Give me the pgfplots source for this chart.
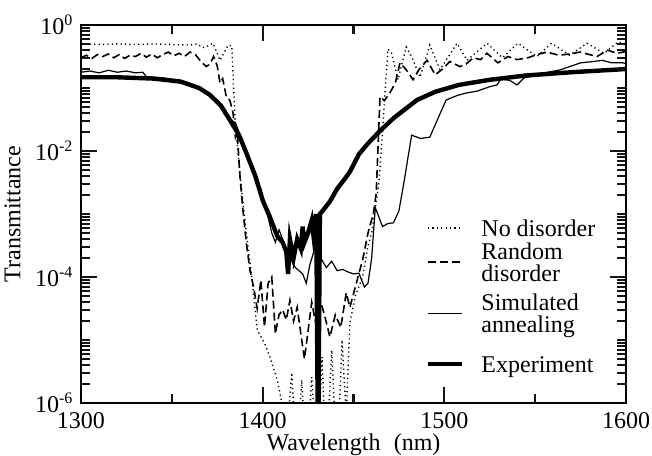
\documentclass[border=0pt]{standalone}
\usepackage{pgfplots}
\pgfplotsset{compat=1.18}
\usepackage{fontspec}
\setmainfont{Liberation Serif}
\definecolor{tickcol}{RGB}{20,20,20}
\newcommand{\fs}{\fontsize{12}{13.8}\selectfont}
\newcommand{\one}[1]{\raisebox{-4pt}{#1}}
\newcommand{\two}[2]{\raisebox{1.55pt}{\vtop{\baselineskip=11pt\hbox{#1}\hbox{#2}}}}
\pgfplotsset{
  leg/.style 2 args={legend image code/.code={%
    \draw[##1] (0cm,0cm) -- (0.6cm,0cm);
    \path[draw=none] (0cm,-#1) -- (0cm,#2);}},
}

\begin{document}
\begin{tikzpicture}
\begin{axis}[
  name=ax,
  width=272.5pt, height=189pt, scale only axis,
  xmin=1300, xmax=1600, ymin=1e-6, ymax=1, ymode=log,
  xtick={1300,1400,1500,1600},
  minor xtick={1350,1450,1550},
  ytick={1e-6,1e-4,1e-2,1},
  yticklabels={10\textsuperscript{-6},10\textsuperscript{-4},10\textsuperscript{-2},10\textsuperscript{0}},
  minor ytick={2e-6,3e-6,4e-6,5e-6,6e-6,7e-6,8e-6,9e-6,1e-5,
               2e-5,3e-5,4e-5,5e-5,6e-5,7e-5,8e-5,9e-5,
               2e-4,3e-4,4e-4,5e-4,6e-4,7e-4,8e-4,9e-4,1e-3,
               2e-3,3e-3,4e-3,5e-3,6e-3,7e-3,8e-3,9e-3,
               2e-2,3e-2,4e-2,5e-2,6e-2,7e-2,8e-2,9e-2,1e-1,
               2e-1,3e-1,4e-1,5e-1,6e-1,7e-1,8e-1,9e-1},
  tick align=inside, xtick pos=both, ytick pos=both,
  major tick length=8pt, minor tick length=4.5pt,
  line width=1pt,
  axis line style={line width=1pt},
  axis on top,
  xtick style={draw=tickcol, line width=1.1pt},
  ytick style={draw=tickcol, line width=1.1pt},
  tick label style={font=\fs},
  x tick label style={/pgf/number format/1000 sep={}, yshift=-1pt},
  /pgf/number format/assume math mode=true,
  label style={font=\fs},
  xlabel={Wavelength\hspace{0.55em}(nm)},
  xlabel style={yshift=4.5pt},
  ylabel={Transmittance},
  legend style={draw=none, fill=none, font=\fs, inner sep=0pt,
    nodes={inner sep=0pt, text height=0pt, text depth=0pt, anchor=west},
    column sep=8.5pt, row sep=0pt,
    at={(rel axis cs:0.631,0.497)}, anchor=north west},
  legend cell align=left,
]
% No disorder
\addplot[black, line width=0.7pt, dash pattern=on 0.6pt off 1.6pt, leg={6pt}{6pt}] coordinates {
(1300,0.501)(1310,0.490)(1320,0.501)(1330,0.490)(1340,0.501)(1350,0.490)
(1360,0.479)(1364,0.501)(1367,0.437)(1370,0.468)(1372.7,0.513)(1376.5,0.275)
(1381,0.479)(1383,0.468)(1384,0.100)(1385,0.0251)(1388,3.16e-3)(1391,5.01e-4)
(1394,1.0e-4)(1397,1.45e-5)(1401,8.91e-6)(1404,5.37e-6)(1408,2.34e-6)(1410.6,1e-6)
(1412,1e-7)(1416,3.02e-6)(1419,1e-7)(1421.5,2.34e-6)(1424,1e-7)(1427,2.57e-6)
(1430,1e-7)(1432.7,5.37e-6)(1435,1e-7)(1438,6.92e-6)(1441,1e-7)(1443.7,1.0e-5)
(1446,6.31e-7)(1448,1.86e-5)(1451,5.01e-5)(1455,1.0e-4)(1458,3.16e-4)(1460,5.01e-4)
(1462,1.26e-3)(1464,3.16e-3)(1466,0.0200)(1467.5,0.100)(1469,0.417)(1471,0.355)
(1474.5,0.135)(1479,0.447)(1482,0.316)(1486.6,0.148)(1492,0.479)(1497.6,0.195)
(1507,0.513)(1512.5,0.275)(1523.5,0.513)(1532,0.302)(1540.5,0.513)(1551,0.316)
(1559,0.513)(1569,0.331)(1578.5,0.513)(1588,0.355)(1595.6,0.537)(1600,0.501)
};
\addlegendentry{\one{No disorder}}
% Random disorder
\addplot[black, line width=0.8pt, dash pattern=on 4pt off 2pt, leg={12.75pt}{11pt}] coordinates {
(1300,0.302)(1303,0.331)(1306,0.295)(1309,0.339)(1312,0.316)(1315,0.347)
(1318,0.302)(1321,0.339)(1324,0.295)(1327,0.331)(1330,0.316)(1333,0.355)
(1336,0.309)(1339,0.347)(1342,0.302)(1345,0.339)(1348,0.372)(1351,0.324)
(1354,0.355)(1357,0.316)(1360,0.372)(1363,0.339)(1366,0.263)(1369,0.219)
(1371,0.240)(1373,0.316)(1375,0.224)(1376.5,0.120)(1378,0.141)(1380,0.0724)
(1382,0.0631)(1383.7,0.0398)(1385,0.0166)(1386,0.0200)(1387.5,0.00398)(1389,0.00126)
(1391,3.47e-4)(1393,1.29e-4)(1395,6.92e-5)(1397,3.16e-5)(1399,8.91e-5)(1401,1.62e-5)
(1403,7.94e-5)(1405,1.0e-4)(1407,1.26e-5)(1409,2.51e-5)(1411,3.02e-5)(1413,2.09e-5)
(1415,4.27e-5)(1417,2.0e-5)(1419,3.31e-5)(1421,1.26e-5)(1423,5.01e-6)(1425,1.41e-5)
(1427,3.98e-5)(1429,2.0e-5)(1431,5.01e-5)(1434,2.51e-5)(1437,1.12e-5)(1440,2.51e-5)
(1443,1.58e-5)(1446,5.62e-5)(1448,3.31e-5)(1451,6.92e-5)(1455,1.86e-4)(1458,5.01e-4)
(1461,1.05e-3)(1462.5,2.14e-3)(1464.6,0.0724)(1467,0.0631)(1470,0.0832)(1473,0.120)
(1475.6,0.251)(1479,0.195)(1482.8,0.135)(1486,0.195)(1490.5,0.275)(1495,0.162)
(1499,0.200)(1503,0.263)(1508.6,0.219)(1512,0.240)(1516,0.302)(1520,0.282)
(1523.5,0.355)(1529.5,0.251)(1535,0.316)(1540,0.282)(1546,0.302)(1551,0.339)
(1556.5,0.372)(1563,0.331)(1569,0.347)(1574.7,0.372)(1584,0.316)(1590,0.398)
(1595,0.355)(1600,0.380)
};
\addlegendentry{\two{Random}{disorder}}
% Simulated annealing
\addplot[black, line width=0.6pt, leg={12pt}{12.75pt}] coordinates {
(1300,0.178)(1305,0.186)(1310,0.174)(1315,0.191)(1320,0.178)(1325,0.186)
(1330,0.174)(1334,0.178)(1336,0.151)(1345,0.145)(1355,0.132)(1360,0.112)
(1365,0.105)(1368,0.0832)(1372,0.0759)(1377,0.0562)(1382,0.0316)(1385,0.0282)
(1387,0.0200)(1391,0.0100)(1394,0.00501)(1397,0.00282)(1399,0.00251)(1400,0.00178)
(1403,8.91e-4)(1405,5.01e-4)(1407,3.55e-4)(1409,5.62e-4)(1411,3.98e-4)(1413,2.82e-4)
(1415,2.0e-4)(1418,1.41e-4)(1420,1.26e-4)(1422,1.12e-4)(1424,7.94e-5)(1426,1.58e-4)
(1429,3.02e-4)(1432,2.0e-4)(1435,1.41e-4)(1438,1.78e-4)(1441,1.26e-4)(1444,1.32e-4)
(1447,1.20e-4)(1450,1.12e-4)(1453,1.15e-4)(1456,6.92e-5)(1458,8.0e-5)(1460,2.0e-4)
(1462,1.26e-3)(1466,6.31e-4)(1469,7.08e-4)(1472,7.24e-4)(1475,1.12e-3)(1478,3.47e-3)
(1480,7.94e-3)(1482,0.0178)(1487,0.0158)(1492,0.0166)(1497,0.0355)(1501,0.0646)
(1507,0.0759)(1512,0.0832)(1518,0.0891)(1525,0.105)(1529,0.112)(1531,0.138)
(1536,0.132)(1540,0.112)(1544,0.145)(1550,0.158)(1557,0.178)(1564,0.195)
(1570,0.224)(1575,0.251)(1582,0.263)(1587,0.275)(1592,0.251)(1598,0.251)(1600,0.245)
};
\addlegendentry{\two{Simulated}{annealing}}
% Experiment
\addplot[black, line width=2.2pt, leg={6pt}{13.5pt}] coordinates {
(1300,0.148)(1320,0.148)(1340,0.141)(1355,0.126)(1365,0.100)(1371,0.0776)
(1377,0.0525)(1382,0.0309)(1387,0.0178)(1391,0.00933)(1396,0.00398)(1400,0.00166)
(1404,8.91e-4)(1408,4.47e-4)(1411,3.55e-4)(1413,2.51e-4)(1414,1.12e-4)(1415,3.98e-4)
(1417,2.0e-4)(1419,3.98e-4)(1421,2.82e-4)(1422,6.31e-4)(1423,3.55e-4)(1425,5.01e-4)
(1427,7.94e-4)(1428,4.47e-4)(1429.5,1.0e-3)(1430.5,1e-7)(1431.5,1.0e-3)(1433,1.12e-3)
(1437,1.58e-3)(1441,2.51e-3)(1445,3.55e-3)(1448,4.68e-3)(1453,8.91e-3)(1458,0.0132)
(1465,0.0214)(1472,0.0331)(1480,0.0501)(1485,0.0646)(1495,0.0871)(1508,0.112)
(1525,0.135)(1545,0.158)(1570,0.178)(1600,0.200)
};
\addlegendentry{\one{Experiment}}
\end{axis}
\pgfresetboundingbox
\path[use as bounding box] ([xshift=-40.5pt,yshift=-26pt]ax.south west)
  rectangle ([xshift=13pt,yshift=12.5pt]ax.north east);
\end{tikzpicture}
\end{document}
